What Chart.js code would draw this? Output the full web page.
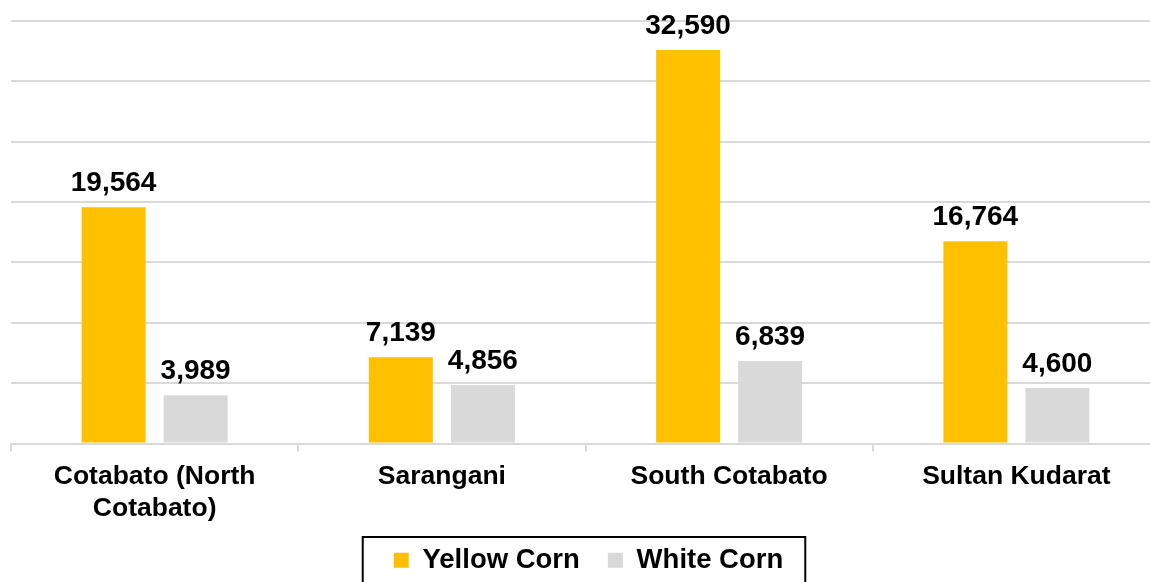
<!DOCTYPE html>
<html>
<head>
<meta charset="utf-8">
<script src="https://cdn.jsdelivr.net/npm/chart.js@4.4.1/dist/chart.umd.min.js"></script>
<style>
    html, body { margin: 0; padding: 0; background: #fff; overflow: hidden; }
    #wrap { width: 1150px; height: 582px; overflow: hidden; position: relative; }
    #box { position: absolute; left: 0; top: 0; width: 1160px; height: 584px; }
</style>
</head>
<body>
<div id="wrap"><div id="box"><canvas id="cornChart"></canvas></div></div>
<script>
const provinces = [["Cotabato (North", "Cotabato)"], "Sarangani", "South Cotabato", "Sultan Kudarat"];
const yellowCorn = [19564, 7139, 32590, 16764];
const whiteCorn = [3989, 4856, 6839, 4600];

const FONT = "'Liberation Sans', Arial, sans-serif";

// value labels above each bar
const barLabels = {
    id: "barLabels",
    afterDatasetsDraw(chart) {
        const ctx = chart.ctx;
        ctx.save();
        ctx.font = "bold 28px " + FONT;
        ctx.fillStyle = "#000";
        ctx.textAlign = "center";
        ctx.textBaseline = "alphabetic";
        chart.data.datasets.forEach((ds, i) => {
            chart.getDatasetMeta(i).data.forEach((bar, j) => {
                ctx.fillText(ds.data[j].toLocaleString("en-US"), bar.x, bar.y - 16);
            });
        });
        ctx.restore();
    }
};

// nudge the legend a little right, then frame it in black
const legendFrame = {
    id: "legendFrame",
    afterLayout(chart) {
        chart.legend.left += 3;
        chart.legend.right += 3;
    },
    afterDraw(chart) {
        const boxes = chart.legend.legendHitBoxes;
        if (!boxes || !boxes.length) return;
        const left = Math.min(...boxes.map(b => b.left)) - 31;
        const right = Math.max(...boxes.map(b => b.left + b.width)) + 22;
        const top = Math.min(...boxes.map(b => b.top)) - 9.5;
        const ctx = chart.ctx;
        ctx.save();
        ctx.strokeStyle = "#000";
        ctx.lineWidth = 2;
        ctx.strokeRect(left, top, right - left, 200);
        ctx.restore();
    }
};

new Chart(document.getElementById("cornChart"), {
    type: "bar",
    data: {
        labels: provinces,
        datasets: [
            { label: "Yellow Corn", data: yellowCorn, backgroundColor: "#FFC000" },
            { label: "White Corn", data: whiteCorn, backgroundColor: "#D9D9D9" }
        ]
    },
    options: {
        responsive: true,
        maintainAspectRatio: false,
        animation: false,
        categoryPercentage: 0.571,
        barPercentage: 0.78,
        layout: { padding: { left: 11, top: 21, right: 0, bottom: 0 } },
        plugins: {
            tooltip: { enabled: false },
            legend: {
                position: "bottom",
                labels: {
                    color: "#000",
                    font: { family: FONT, size: 27.5, weight: "bold" },
                    boxWidth: 15,
                    boxHeight: 15,
                    padding: 28
                }
            }
        },
        scales: {
            x: {
                afterFit(scale) { scale.height = 75; },
                // let the second label line run past the axis box
                afterUpdate(scale) { scale._computeLabelArea = () => undefined; },
                grid: { drawOnChartArea: false, drawTicks: true, tickLength: 8, color: "#D9D9D9", lineWidth: 2 },
                border: { color: "#D9D9D9", width: 2 },
                ticks: { color: "#000", font: { family: FONT, size: 26.5, weight: "bold" }, padding: 9, maxRotation: 0, autoSkip: false }
            },
            y: {
                min: 0,
                max: 35000,
                ticks: { display: false, stepSize: 5000 },
                grid: { color: "#D9D9D9", lineWidth: 2, drawTicks: false },
                border: { display: false }
            }
        }
    },
    plugins: [barLabels, legendFrame]
});
</script>
</body>
</html>
